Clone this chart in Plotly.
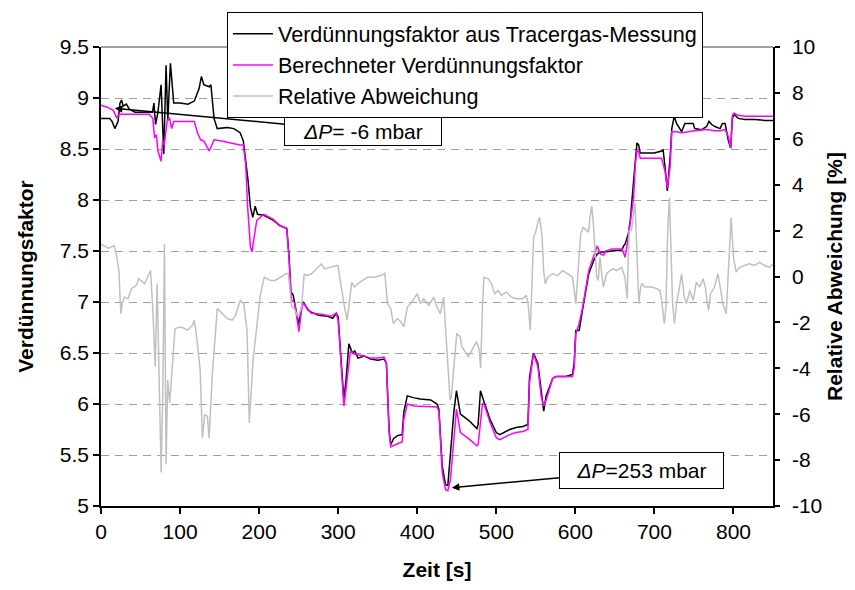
import plotly.graph_objects as go

# ---------------- data ----------------
t_meas = [0, 11, 14, 17.5, 21.5, 24, 26, 28, 32, 36, 43, 55, 65, 67, 69, 72, 76, 79.4, 82.3, 84.5,
          87.8, 92, 100, 110, 118, 124, 127, 130, 137, 139, 143, 147, 160, 168, 176, 180, 183, 186,
          189, 192, 195, 198, 206, 218, 226, 235, 238, 240, 243, 246, 250, 253.7, 255.8, 262, 266,
          275, 287, 293, 297.6, 300, 304, 307.2, 310, 313.5, 318, 321, 325, 333, 341, 350, 358, 361,
          364.4, 366.5, 370, 375, 381, 383, 387.4, 396, 404, 417, 425, 427.4, 431.6, 435.8, 438.7,
          442, 446.3, 449.6, 454.6, 465, 475.5, 477, 480, 485, 492, 500, 504.4, 517, 525, 533.6,
          540, 542, 547, 552.5, 556.7, 560, 563, 571.3, 575.5, 588, 596.4, 598.5, 600.6, 604.8,
          609, 617, 623.4, 627.6, 631.8, 636, 646.5, 659, 661, 663, 667, 669.5, 673.7, 675.8, 677.9,
          680, 682, 688, 700, 709, 711, 713.5, 716.4, 719.8, 722, 725, 728, 734.4, 738.6, 749, 751,
          759.7, 766, 769, 772.4, 776.6, 783, 786, 789.4, 793.6, 796.5, 798.6, 800.7, 806, 814.5,
          827, 839.8, 850]
v_meas = [8.80, 8.80, 8.77, 8.70, 8.77, 8.95, 8.98, 8.92, 8.94, 8.89, 8.86, 8.86, 8.86, 8.95, 8.74,
          8.86, 9.13, 8.45, 9.32, 8.78, 9.34, 8.95, 8.95, 8.94, 8.97, 9.09, 9.21, 9.13, 9.11, 9.13,
          8.80, 8.70, 8.71, 8.70, 8.66, 8.58, 8.41, 8.19, 7.93, 7.83, 7.94, 7.86, 7.85, 7.80, 7.75,
          7.72, 7.44, 7.10, 7.07, 6.95, 6.78, 6.95, 7.00, 6.92, 6.90, 6.87, 6.86, 6.84, 6.89, 6.85,
          6.40, 6.04, 6.24, 6.59, 6.50, 6.52, 6.45, 6.47, 6.44, 6.43, 6.44, 6.40, 5.75, 5.60, 5.66,
          5.69, 5.70, 5.92, 6.08, 6.06, 6.05, 6.04, 6.00, 5.95, 5.39, 5.21, 5.20, 5.52, 5.92, 6.13,
          5.90, 5.84, 5.76, 5.80, 6.13, 6.01, 5.85, 5.72, 5.70, 5.75, 5.77, 5.78, 5.80, 6.26, 6.50,
          6.40, 6.11, 5.93, 6.08, 6.25, 6.27, 6.27, 6.29, 6.40, 6.72, 6.72, 6.92, 7.28, 7.41, 7.47,
          7.49, 7.49, 7.50, 7.51, 7.55, 7.57, 7.67, 7.80, 8.19, 8.41, 8.56, 8.54, 8.46, 8.46, 8.46,
          8.48, 8.49, 8.32, 8.09, 8.41, 8.70, 8.82, 8.75, 8.67, 8.75, 8.75, 8.70, 8.69, 8.72, 8.77,
          8.74, 8.72, 8.70, 8.75, 8.75, 8.58, 8.51, 8.80, 8.84, 8.80, 8.79, 8.79, 8.78, 8.78]

t_calc = [0, 8, 15.5, 19.6, 23.7, 34, 61, 65.6, 67.7, 70, 72, 76, 78, 80, 83.6, 86.5, 89.4, 92, 118,
          122, 126, 130, 137, 143, 151, 176, 180, 183, 185.5, 189, 191, 193, 197, 206, 218, 226,
          235, 238, 241, 245, 250.3, 253.7, 255.7, 266, 278.7, 291, 297.5, 300, 304, 307.2, 310,
          315.5, 320, 333, 341, 350, 358, 361, 364.4, 366.5, 375, 381, 383, 387.4, 396, 417, 425,
          427.4, 431.6, 435.8, 438.7, 442, 446.3, 449.6, 454.6, 465, 475.5, 477, 482.6, 485, 492,
          500, 504.4, 517, 525, 533.6, 540, 542, 547, 552.5, 556.7, 560, 563, 571.3, 575.5, 588,
          596.4, 598.5, 600.6, 604.8, 609, 617, 623.4, 627.6, 631.8, 636, 638, 646.5, 659, 661, 663,
          667, 669.5, 673.7, 675.8, 677.9, 680, 682, 700, 709, 713.5, 716.4, 719.8, 722, 728, 734.4,
          751, 760, 766, 776.6, 783, 789.4, 793.6, 796.5, 798.6, 800.7, 806, 814.5, 850]
v_calc = [8.93, 8.91, 8.88, 8.81, 8.84, 8.84, 8.84, 8.80, 8.61, 8.64, 8.48, 8.38, 8.58, 8.54, 8.77,
          8.81, 8.70, 8.77, 8.77, 8.66, 8.59, 8.58, 8.48, 8.59, 8.58, 8.54, 8.54, 8.35, 7.93, 7.54,
          7.49, 7.60, 7.80, 7.86, 7.81, 7.75, 7.72, 7.40, 7.02, 6.99, 6.71, 6.92, 6.99, 6.89, 6.88,
          6.86, 6.89, 6.82, 6.35, 5.98, 6.15, 6.52, 6.49, 6.47, 6.45, 6.45, 6.46, 6.40, 5.72, 5.58,
          5.61, 5.63, 5.85, 6.00, 5.98, 5.97, 5.97, 5.93, 5.33, 5.16, 5.15, 5.26, 5.63, 5.95, 5.72,
          5.66, 5.59, 5.60, 6.01, 5.99, 5.82, 5.67, 5.65, 5.70, 5.72, 5.73, 5.75, 6.21, 6.49, 6.37,
          6.08, 5.98, 6.04, 6.25, 6.27, 6.27, 6.27, 6.35, 6.69, 6.79, 6.94, 7.31, 7.46, 7.55, 7.47,
          7.46, 7.50, 7.52, 7.52, 7.47, 7.44, 7.64, 7.80, 8.02, 8.35, 8.48, 8.48, 8.41, 8.41, 8.41,
          8.28, 8.12, 8.32, 8.67, 8.67, 8.66, 8.68, 8.69, 8.69, 8.68, 8.68, 8.69, 8.62, 8.51, 8.83,
          8.85, 8.83, 8.82, 8.82]

t_dev = [0, 9.2, 16.7, 19.6, 22.6, 25.1, 26.8, 29.3, 34.3, 38.5, 44.7, 47.6, 55.2, 59.3, 62.7, 65.6,
         68.5, 71, 72.7, 76.1, 78.2, 80.2, 82.3, 84.4, 86.9, 90.7, 93.6, 101.2, 109.5, 115.8, 117.8,
         120, 125.4, 128.3, 131.2, 134.6, 136.7, 140.9, 147.1, 151.3, 159.6, 165.9, 170.1, 176.3,
         180.5, 184.7, 187.6, 192.3, 198.1, 201.5, 206.5, 214, 220.3, 226.5, 234, 237, 241.1,
         243.2, 249.5, 253.7, 257, 260, 266.2, 270.4, 278.7, 282.9, 289.2, 293.4, 297.6, 299.6,
         303.8, 308, 311.4, 314.3, 317.2, 320.5, 324.7, 331, 337.3, 345.6, 354, 359, 362.3, 366.5,
         369.8, 374.8, 379, 383.2, 387.4, 391.6, 395.8, 400, 404.1, 408.3, 414.6, 420.9, 425, 429.2,
         433.4, 437.6, 441.5, 443, 446, 450, 454.2, 456.4, 464.8, 471, 475, 478.5, 480.2, 482.6,
         484.4, 489.8, 494, 498, 502.3, 506.6, 513, 519, 525.4, 533.6, 537.8, 540, 543, 547.2,
         549.7, 552.6, 554.7, 558, 559.8, 562, 565, 571.3, 577.6, 584, 590, 596.4, 600.6, 606.8,
         610, 616.5, 618.6, 620.7, 622.8, 624.9, 627, 629, 631, 635.4, 639.6, 643.8, 648, 652,
         658.5, 662.7, 665.6, 668, 671, 675.5, 678, 680.3, 682, 684, 688, 696.6, 703, 707, 709,
         712.6, 714.6, 716.8, 719, 721, 723, 725.4, 728, 731, 734.4, 737.7, 740.6, 744.8, 749, 753,
         757.3, 761.5, 764.4, 767, 768.6, 771, 776, 780.4, 783.7, 786.6, 790.8, 793.8, 797, 800,
         803.4, 807.6, 814, 820, 826.6, 833, 839.5, 845.6, 850]
r_dev = [1.41, 1.23, 1.34, 0.91, 0.26, -1.62, -1.18, -0.90, -0.97, -0.53, -0.39, -0.10, -0.32, -0.03,
         0.26, -1.47, -3.93, -0.32, -2.77, -8.54, -4.94, 1.41, -8.18, -4.50, -5.51, -3.49, -2.27,
         -2.19, -2.34, -2.12, -1.90, -2.34, -4.07, -7.03, -6.02, -6.09, -7.03, -4.21, -1.40, -1.54,
         -1.83, -1.90, -1.69, -1.04, -1.18, -2.34, -6.38, -3.64, -1.76, -0.82, -0.03, -0.17, -0.17,
         -0.03, 0.12, 0.14, -1.33, -1.33, -1.76, -1.33, 0.12, 0.04, 0.12, 0.26, 0.55, 0.33, 0.40,
         0.43, 0.48, 0.48, -0.46, -1.33, -1.90, -1.18, -0.25, -0.46, -0.32, -0.17, -0.03, -0.03,
         0.04, 0.14, -1.18, -1.40, -2.05, -1.83, -1.97, -2.19, -1.33, -1.18, -0.97, -0.75, -1.18,
         -0.97, -1.26, -0.90, -1.33, -1.62, -0.90, -3.49, -5.37, -5.30, -3.93, -2.48, -2.63, -3.06,
         -3.49, -3.06, -2.84, -3.20, -4.00, -1.18, -0.03, -0.10, -0.32, -0.75, -0.61, -0.82, -0.68,
         -0.90, -0.97, -0.97, -0.82, -1.11, -2.34, 1.71, 1.93, 2.36, 2.58, 1.71, 0.26, -0.32, -0.03,
         0.12, 0.04, 0.26, 0.12, -0.03, -1.18, 1.86, 2.14, 1.93, 2.58, 3.09, 2.29, 1.14, -0.03,
         -0.17, 0.84, -0.46, 0.12, 0.26, 0.33, 0.26, 0.40, -0.03, -0.97, 2.00, 2.00, 3.20, 0.84,
         -1.18, -0.61, -0.29, -0.46, -0.46, -0.53, -0.61, -1.04, -2.05, -1.33, 1.99, 3.43, 1.56,
         -1.18, -2.05, -1.18, -0.61, 0.12, -0.90, -1.18, -0.61, -1.04, -0.25, -0.46, -0.10, -0.46,
         -1.18, -1.47, -0.75, -0.46, 0.12, -0.61, -1.18, -1.62, 0.40, 2.57, 0.84, 0.19, 0.40, 0.48,
         0.55, 0.48, 0.62, 0.48, 0.40, 0.55]

series_names = ["Verdünnungsfaktor aus Tracergas-Messung",
                "Berechneter Verdünnungsfaktor",
                "Relative Abweichung"]

x_tickvals = [0, 100, 200, 300, 400, 500, 600, 700, 800]
x_ticktext = ["0", "100", "200", "300", "400", "500", "600", "700", "800"]
y_tickvals = [5, 5.5, 6, 6.5, 7, 7.5, 8, 8.5, 9, 9.5]
y_ticktext = ["5", "5.5", "6", "6.5", "7", "7.5", "8", "8.5", "9", "9.5"]
y2_tickvals = [-10, -8, -6, -4, -2, 0, 2, 4, 6, 8, 10]
y2_ticktext = ["-10", "-8", "-6", "-4", "-2", "0", "2", "4", "6", "8", "10"]

# annotation targets (data coordinates)
ann1_point = (17.6, 8.90)
ann1_box = (332, 8.67)
ann2_point = (443.8, 5.18)
ann2_box = (684, 5.35)

FONT = "Liberation Sans, Arial, sans-serif"

fig = go.Figure()
fig.add_trace(go.Scatter(x=t_meas, y=v_meas, mode="lines", name=series_names[0],
                         line=dict(color="#000000", width=1.5)))
fig.add_trace(go.Scatter(x=t_calc, y=v_calc, mode="lines", name=series_names[1],
                         line=dict(color="#ff00ff", width=1.5)))
fig.add_trace(go.Scatter(x=t_dev, y=r_dev, mode="lines", name=series_names[2], yaxis="y2",
                         line=dict(color="#c0c0c0", width=1.5)))

fig.update_layout(
    width=855, height=590,
    margin=dict(l=101, r=76, t=45, b=82, pad=0),
    paper_bgcolor="white", plot_bgcolor="white",
    font=dict(family=FONT, size=21, color="black"),
    showlegend=True,
    legend=dict(x=0.1874, y=1.0756, xanchor="left", yanchor="top",
                bgcolor="white", bordercolor="black", borderwidth=1,
                font=dict(family=FONT, size=21.6, color="black"),
                itemwidth=40, tracegroupgap=0),
    xaxis=dict(range=[0, 850], tickvals=x_tickvals, ticktext=x_ticktext,
               ticks="outside", ticklen=6, tickwidth=1.5, tickcolor="black",
               showline=True, linecolor="black", linewidth=1.5, mirror=False,
               showgrid=False, zeroline=False,
               title=dict(text="<b>Zeit [s]</b>", standoff=20,
                          font=dict(family=FONT, size=21))),
    yaxis=dict(range=[5, 9.5], tickvals=y_tickvals, ticktext=y_ticktext,
               ticks="outside", ticklen=6, tickwidth=1.5, tickcolor="black",
               showline=True, linecolor="black", linewidth=1.5,
               showgrid=True, gridcolor="#a0a0a0", gridwidth=1, griddash="8px,6px",
               zeroline=False,
               title=dict(text="<b>Verdünnungsfaktor</b>", standoff=20,
                          font=dict(family=FONT, size=21))),
    yaxis2=dict(range=[-10, 10], tickvals=y2_tickvals, ticktext=y2_ticktext,
                overlaying="y", side="right",
                ticks="outside", ticklen=5, tickwidth=1.5, tickcolor="black",
                ticklabelstandoff=8,
                showline=True, linecolor="black", linewidth=1.5,
                showgrid=False, zeroline=False,
                title=dict(text="<b>Relative Abweichung [%]</b>", standoff=6,
                           font=dict(family=FONT, size=21))),
)

# top border of the plot area
fig.add_shape(type="line", xref="paper", yref="paper", x0=0, x1=1, y0=1, y1=1,
              line=dict(color="#808080", width=1.5), layer="above")

fig.add_annotation(x=ann1_point[0], y=ann1_point[1], xref="x", yref="y",
                   ax=ann1_box[0], ay=ann1_box[1], axref="x", ayref="y",
                   text="<i>ΔP</i>= -6 mbar", showarrow=True,
                   arrowhead=2, arrowsize=1, arrowwidth=1.5, arrowcolor="black",
                   font=dict(family=FONT, size=21, color="black"),
                   bgcolor="white", bordercolor="black", borderwidth=1, borderpad=0,
                   width=156, height=27)
fig.add_annotation(x=ann2_point[0], y=ann2_point[1], xref="x", yref="y",
                   ax=ann2_box[0], ay=ann2_box[1], axref="x", ayref="y",
                   text="<i>ΔP</i>=253 mbar", showarrow=True,
                   arrowhead=2, arrowsize=1, arrowwidth=1.5, arrowcolor="black",
                   font=dict(family=FONT, size=21, color="black"),
                   bgcolor="white", bordercolor="black", borderwidth=1, borderpad=0,
                   width=163, height=35)

fig.write_html("out.html")
